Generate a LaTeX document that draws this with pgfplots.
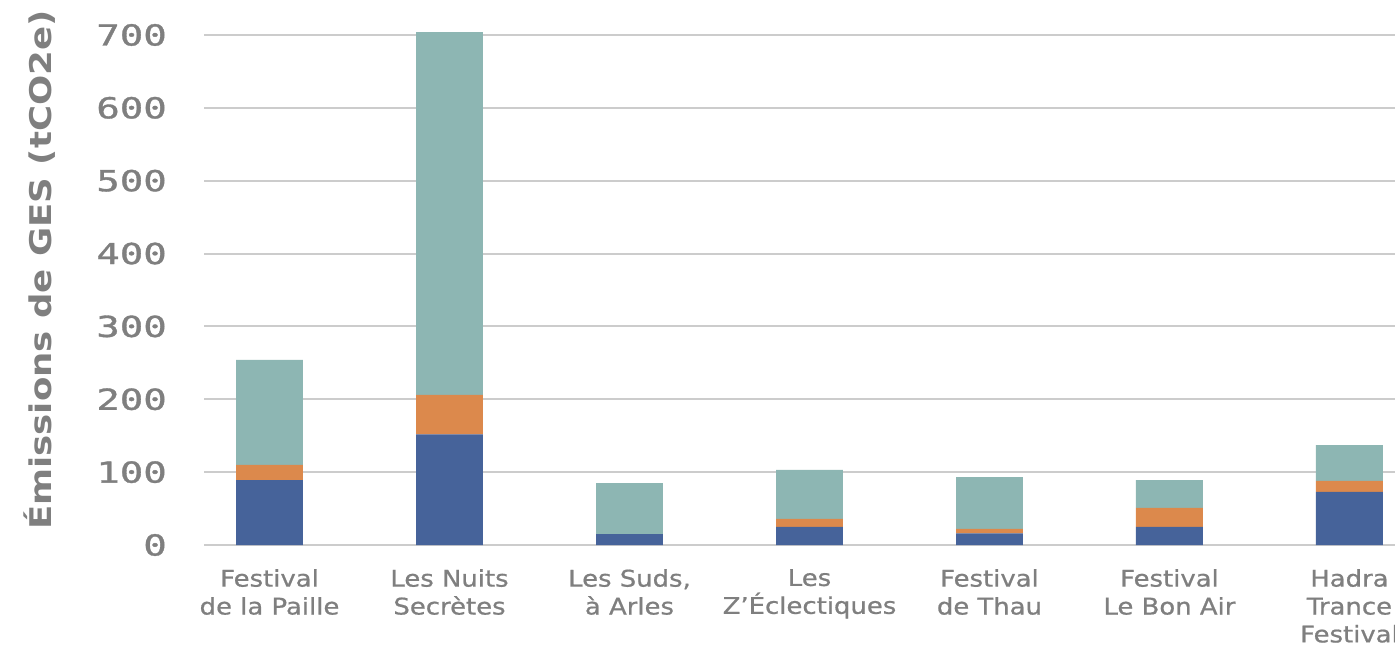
\documentclass[border=0pt]{standalone}
\usepackage{fontspec}
\setmainfont{DejaVu Sans}
\newfontfamily\catfont[FakeStretch=1.13, FakeBold=0.8]{DejaVu Sans}
\newfontfamily\tickfont[FakeStretch=1.35, FakeBold=1.2]{DejaVu Sans Mono}
\newfontfamily\labfont[FakeStretch=1.19]{DejaVu Sans}
\usepackage{pgfplots}
\pgfplotsset{compat=1.18}
\definecolor{cblue}{HTML}{46639A}
\definecolor{corange}{HTML}{DC894C}
\definecolor{cteal}{HTML}{8DB6B3}
\definecolor{gridc}{HTML}{CCCCCC}
\definecolor{txt}{HTML}{7F7F7F}
\begin{document}
\begin{tikzpicture}
\begin{axis}[
  at={(204bp,101bp)}, anchor=south west,
  scale only axis,
  width=1191bp, height=524.6bp,
  xmin=-0.364, xmax=6.253,
  ymin=0, ymax=720,
  ybar stacked, bar width=0.372,
  axis line style={draw=none},
  major tick length=0pt,
  ytick={0,100,...,700},
  ymajorgrids, grid style={gridc, line width=2bp},
  xtick={0,...,6},
  xticklabels={{Festival\\de la Paille},{Les Nuits\\Secrètes},{Les Suds,\\à Arles},{Les\\Z’Éclectiques},{Festival\\de Thau},{Festival\\Le Bon Air},{Hadra\\Trance\\Festival}},
  xticklabel style={anchor=north, inner sep=0pt, yshift=-24bp, align=center,
    font=\catfont\fontsize{23}{28}\selectfont, text=txt},
  /pgf/number format/assume math mode=true,
  yticklabel style={anchor=east, inner sep=0pt, xshift=-37bp,
    font=\tickfont\fontsize{29}{32}\selectfont, text=txt},
  ylabel={Émissions de GES (tCO2e)},
  every axis y label/.style={at={(axis description cs:-0.1377,0.524)}, anchor=center, rotate=90,
    font=\labfont\bfseries\fontsize{30}{34}\selectfont, text=txt},
  clip=false,
]
\addplot[fill=cblue, draw=none] coordinates {(0,89) (1,152) (2,15) (3,25) (4,16) (5,25) (6,73)};
\addplot[fill=corange, draw=none] coordinates {(0,21) (1,54) (2,0) (3,11) (4,6) (5,26) (6,15)};
\addplot[fill=cteal, draw=none] coordinates {(0,144) (1,498) (2,70) (3,67) (4,71) (5,38) (6,49)};
\end{axis}
\pgfresetboundingbox
\path[use as bounding box] (0,0) rectangle (1395bp,646bp);
\end{tikzpicture}
\end{document}
